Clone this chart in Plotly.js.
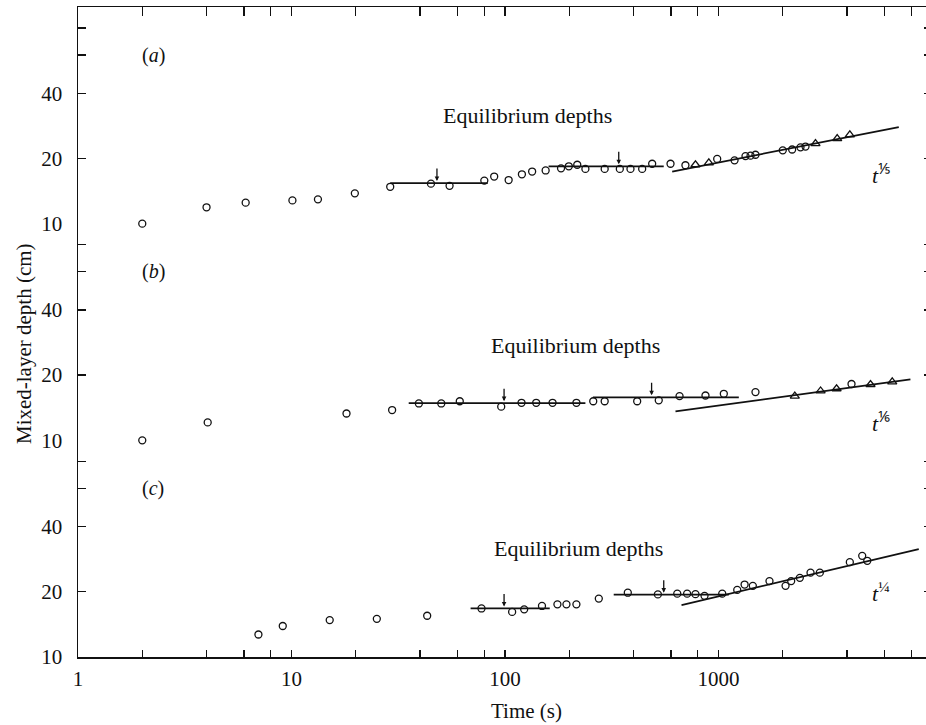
<!DOCTYPE html>
<html>
<head>
<meta charset="utf-8">
<script src="https://cdn.plot.ly/plotly-3.0.1.min.js"></script>
<style>
html,body{margin:0;padding:0;background:#fff;overflow:hidden;}
#chart{width:932px;height:725px;}
</style>
</head>
<body>
<div id="chart"></div>
<script>
// ---------- Panel (a) ----------
const timeA  = [2, 4, 6.1, 10.1, 13.3, 19.8, 29, 45, 55, 80, 89, 104, 120, 134, 155, 183, 199, 218, 238, 293, 345, 387, 439, 489, 596, 700, 986, 1189, 1338, 1413, 1490, 2000, 2213, 2421, 2556];
const depthA = [10.0, 11.9, 12.5, 12.8, 12.95, 13.8, 14.8, 15.3, 14.95, 15.8, 16.5, 15.9, 16.9, 17.4, 17.6, 18.0, 18.4, 18.7, 17.9, 17.9, 17.9, 17.9, 17.9, 18.9, 18.9, 18.6, 19.9, 19.6, 20.5, 20.6, 20.8, 21.8, 22.0, 22.5, 22.7];
const triTimeA  = [780, 901, 2846, 3597, 4122];
const triDepthA = [18.7, 19.1, 23.4, 24.7, 25.7];
const eqTimeA  = [[29, 83], [160, 554]];
const eqDepthA = [15.4, 18.4];
const powTimeA  = [607, 6990];
const powDepthA = [17.4, 27.9];
const arrowTimeA = [48, 341];

// ---------- Panel (b) ----------
const timeB  = [2, 4.05, 18.1, 29.6, 39.5, 50.3, 61.4, 96, 119.5, 140, 167, 216, 259, 293, 416, 525, 657, 869, 1059, 1490, 4198];
const depthB = [10.0, 12.1, 13.3, 13.8, 14.8, 14.8, 15.15, 14.3, 14.9, 14.9, 14.9, 14.9, 15.15, 15.15, 15.15, 15.3, 16.0, 16.1, 16.4, 16.7, 18.2];
const triTimeB  = [2277, 3007, 3573, 5153, 6512];
const triDepthB = [16.0, 16.9, 17.3, 18.1, 18.6];
const eqTimeB  = [[35.4, 238], [258, 1245]];
const eqDepthB = [14.85, 15.8];
const powTimeB  = [629, 7925];
const powDepthB = [13.6, 19.1];
const arrowTimeB = [99, 486];

// ---------- Panel (c) ----------
const timeC  = [7, 9.1, 15.1, 25.1, 43.2, 77.6, 108, 123, 149, 176, 194, 216, 275, 376, 520, 641, 713, 780, 860, 1041, 1224, 1325, 1448, 1733, 2061, 2190, 2404, 2698, 2983, 4122, 4711, 4975];
const depthC = [12.7, 13.9, 14.8, 15.0, 15.5, 16.75, 16.15, 16.6, 17.2, 17.5, 17.5, 17.5, 18.6, 19.8, 19.45, 19.6, 19.6, 19.5, 19.15, 19.6, 20.4, 21.6, 21.3, 22.4, 21.3, 22.4, 23.2, 24.5, 24.5, 27.4, 29.3, 27.8];
const eqTimeC  = [[69, 162], [323, 1118]];
const eqDepthC = [16.75, 19.4];
const powTimeC  = [671, 8670];
const powDepthC = [17.35, 31.5];
const arrowTimeC = [99, 554];

// ---------- Axis ticks ----------
const xTickVals = [1,2,4,6,8,10,20,40,60,80,100,200,400,600,800,1000,2000,4000,6000,8000];
const xTickText = ['1','','','','','10','','','','','100','','','','','1000','','','',''];
const yTickVals = [10,20,40,60,80];
const yTickText = ['10','20','40','',''];

const INK = '#111';
const FONT = "'Liberation Serif','Times New Roman',serif";

const panels = [
  {t:timeA, d:depthA, tt:triTimeA, td:triDepthA, et:eqTimeA, ed:eqDepthA, pt:powTimeA, pd:powDepthA, at:arrowTimeA, xa:'x3', ya:'y3'},
  {t:timeB, d:depthB, tt:triTimeB, td:triDepthB, et:eqTimeB, ed:eqDepthB, pt:powTimeB, pd:powDepthB, at:arrowTimeB, xa:'x2', ya:'y2'},
  {t:timeC, d:depthC, tt:[], td:[], et:eqTimeC, ed:eqDepthC, pt:powTimeC, pd:powDepthC, at:arrowTimeC, xa:'x', ya:'y'}
];

const traces = [];
const annotations = [];
panels.forEach(p => {
  p.et.forEach((seg, i) => {
    traces.push({x: seg, y: [p.ed[i], p.ed[i]], xaxis: p.xa, yaxis: p.ya, mode: 'lines',
      line: {color: INK, width: 1.8}, hoverinfo: 'skip'});
  });
  traces.push({x: p.pt, y: p.pd, xaxis: p.xa, yaxis: p.ya, mode: 'lines',
    line: {color: INK, width: 1.8}, hoverinfo: 'skip'});
  traces.push({x: p.t, y: p.d, xaxis: p.xa, yaxis: p.ya, mode: 'markers', cliponaxis: false,
    marker: {symbol: 'circle-open', size: 7, color: INK, line: {width: 1.3, color: INK}}});
  if (p.tt.length) {
    traces.push({x: p.tt, y: p.td, xaxis: p.xa, yaxis: p.ya, mode: 'markers', cliponaxis: false,
      marker: {symbol: 'triangle-up-open', size: 8, color: INK, line: {width: 1.3, color: INK}}});
  }
  p.at.forEach((t, i) => {
    annotations.push({x: Math.log10(t), y: Math.log10(p.ed[i]), xref: p.xa, yref: p.ya,
      text: '', showarrow: true, arrowhead: 2, arrowsize: 0.7, arrowwidth: 1.3, arrowcolor: INK,
      ax: 0, ay: -16, standoff: 2});
  });
});

const labelFont = {family: FONT, size: 20, color: INK};
const panelLabels = [
  {txt: '(<i>a</i>)', xa: 'x3', ya: 'y3', eq: [127, 31.6], pw: '<i>t</i><sup>⅕</sup>', pwPos: [5740, 17.0]},
  {txt: '(<i>b</i>)', xa: 'x2', ya: 'y2', eq: [214, 27.4], pw: '<i>t</i><sup>⅙</sup>', pwPos: [5740, 12.2]},
  {txt: '(<i>c</i>)', xa: 'x', ya: 'y', eq: [220, 31.7], pw: '<i>t</i><sup>¼</sup>', pwPos: [5740, 20.0]}
];
panelLabels.forEach(l => {
  annotations.push({x: Math.log10(2.25), y: Math.log10(60), xref: l.xa, yref: l.ya, text: l.txt,
    showarrow: false, font: labelFont});
  annotations.push({x: Math.log10(l.eq[0]), y: Math.log10(l.eq[1]), xref: l.xa, yref: l.ya,
    text: 'Equilibrium depths', showarrow: false, font: {family: FONT, size: 22, color: INK}});
  annotations.push({x: Math.log10(l.pwPos[0]), y: Math.log10(l.pwPos[1]), xref: l.xa, yref: l.ya,
    text: l.pw, showarrow: false, font: {family: FONT, size: 22, color: INK}});
});
annotations.push({xref: 'paper', yref: 'paper', x: -0.064, y: 0.482, xanchor: 'center', yanchor: 'middle',
  text: 'Mixed-layer depth (cm)', textangle: -90, showarrow: false, font: {family: FONT, size: 21, color: INK}});
annotations.push({xref: 'paper', yref: 'paper', x: 0.525, y: -0.083, xanchor: 'center', yanchor: 'middle',
  text: 'Time (s)', showarrow: false, font: {family: FONT, size: 21, color: INK}});

const xBase = {type: 'log', range: [0, 4], tickvals: xTickVals, ticktext: xTickText,
  ticks: 'inside', ticklen: 7, tickwidth: 1.3, tickcolor: INK, showline: true, linecolor: INK, linewidth: 1.5,
  showgrid: false, zeroline: false, tickfont: {family: FONT, size: 21, color: INK}, ticklabelstandoff: 2};
const yBase = {type: 'log', range: [1, 2], tickvals: yTickVals, ticktext: yTickText,
  ticks: 'inside', ticklen: 8, tickwidth: 1.3, tickcolor: INK, showline: true, linecolor: INK, linewidth: 1.5,
  mirror: 'ticks', showgrid: false, zeroline: false, tickfont: {family: FONT, size: 21, color: INK},
  ticklabelstandoff: 10};

const layout = {
  width: 932, height: 725,
  margin: {l: 78, r: 0, t: 7, b: 68},
  paper_bgcolor: '#fff', plot_bgcolor: '#fff',
  showlegend: false,
  xaxis: Object.assign({}, xBase, {anchor: 'y'}),
  xaxis2: Object.assign({}, xBase, {anchor: 'y2', matches: 'x', visible: false}),
  xaxis3: Object.assign({}, xBase, {anchor: 'y3', matches: 'x', side: 'top', showticklabels: false, ticklen: 9}),
  yaxis: Object.assign({}, yBase, {domain: [0, 1/3], anchor: 'x'}),
  yaxis2: Object.assign({}, yBase, {domain: [1/3, 2/3], anchor: 'x2'}),
  yaxis3: Object.assign({}, yBase, {domain: [2/3, 1], anchor: 'x3'}),
  annotations: annotations
};

Plotly.newPlot('chart', traces, layout, {staticPlot: true, displayModeBar: false});
</script>
</body>
</html>
